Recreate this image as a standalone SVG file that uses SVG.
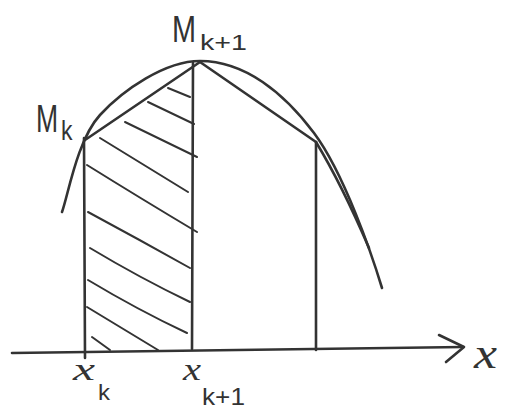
<svg xmlns="http://www.w3.org/2000/svg" width="508" height="409" viewBox="0 0 508 409">
<style>
.s{fill:none;stroke:#333;stroke-width:2.6;stroke-linecap:round;stroke-linejoin:round}
.h{fill:none;stroke:#333;stroke-width:2;stroke-linecap:round}
.t{fill:#333;font-family:"Liberation Sans",Arial,sans-serif}
.x{fill:#333;font-family:"Liberation Serif","Times New Roman",serif;font-style:italic}
</style>
<rect width="508" height="409" fill="#fff"/>
<g id="curve">
<path class="s" d="M62,212 C68,196 77,140 100,115 C123,90 165,61 200,61 C245,61 284,93 314,133 C344,173 372,255 382,288"/>
<path class="s" d="M316,142 Q342,185 369,248"/>
</g>
<g id="chords">
<path class="s" d="M85,140 L200,62 L316,142"/>
</g>
<g id="verticals">
<path class="s" d="M84,138 L85,358"/>
<path class="s" d="M193,63 L192,349"/>
<path class="s" d="M316,142 L316,350"/>
</g>
<g id="hatching">
<path class="h" d="M168,88 L190,97"/>
<path class="h" d="M148,102 L194,124"/>
<path class="h" d="M125,122 L197,157"/>
<path class="h" d="M100,138 L188,192"/>
<path class="h" d="M87,165 Q140,198 197,232"/>
<path class="h" d="M88,212 Q140,240 190,268"/>
<path class="h" d="M90,248 Q140,278 190,302"/>
<path class="h" d="M88,280 Q138,310 187,333"/>
<path class="h" d="M87,307 L158,350"/>
<path class="h" d="M92,337 L110,350"/>
</g>
<g id="axis">
<path class="s" d="M12,353 L463,347"/>
<path class="s" d="M439,335 L464,347 L446,362"/>
<text class="x" x="474" y="368" font-size="44" textLength="23" lengthAdjust="spacingAndGlyphs">x</text>
</g>
<g id="label-Mk">
<text class="t" transform="translate(36,132) scale(0.7,1)" font-size="38">M</text>
<text class="t" transform="translate(61,140) scale(0.85,1)" font-size="27">k</text>
</g>
<g id="label-Mk1">
<text class="t" transform="translate(172,42) scale(0.78,1)" font-size="37">M</text>
<text class="t" x="200" y="50" font-size="22" textLength="47" lengthAdjust="spacingAndGlyphs">k+1</text>
</g>
<g id="label-xk">
<text class="x" x="73" y="380" font-size="32" textLength="22" lengthAdjust="spacingAndGlyphs">x</text>
<text class="t" x="98" y="400" font-size="22" textLength="12" lengthAdjust="spacingAndGlyphs">k</text>
</g>
<g id="label-xk1">
<text class="x" x="183" y="380" font-size="32" textLength="18" lengthAdjust="spacingAndGlyphs">x</text>
<text class="t" x="202" y="405" font-size="24" textLength="43" lengthAdjust="spacingAndGlyphs">k+1</text>
</g>
</svg>
